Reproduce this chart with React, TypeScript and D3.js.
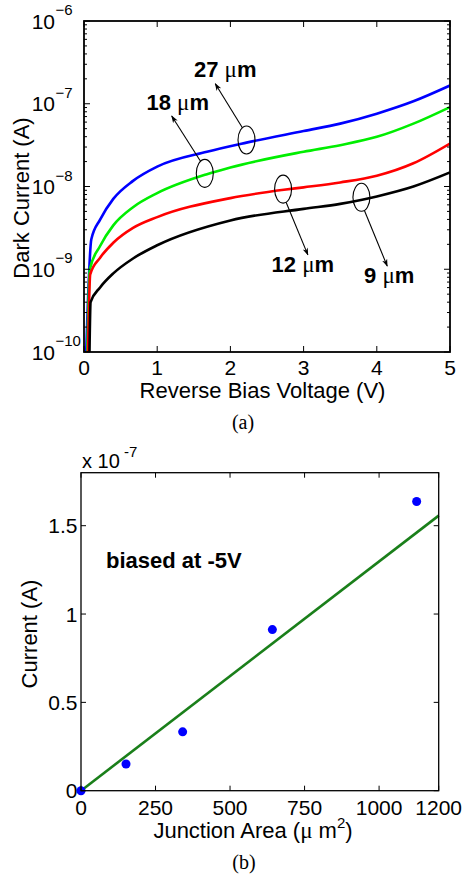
import React from 'react';
import * as d3 from 'd3';

// (a) dark current vs reverse bias, one series per pixel size
const sizeLabels = ['27', '18', '12', '9'];
const sizeColors = ['#0000ff', '#00ee00', '#ff0000', '#000000'];
const blueV = [0.03, 0.1, 0.22, 0.4, 0.67, 1, 1.68, 2.22, 3, 3.5, 4, 4.5, 5];
const blueI = [1e-10, 2.3e-9, 3.98e-9, 7.08e-9, 1.17e-8, 1.74e-8, 2.63e-8, 3.39e-8, 4.68e-8, 5.75e-8, 7.59e-8, 1.07e-7, 1.66e-7];
const greenV = [0.045, 0.08, 0.22, 0.4, 0.67, 1, 1.68, 2, 3, 3.5, 4, 4.5, 5];
const greenI = [1e-10, 1e-9, 1.91e-9, 3.39e-9, 5.62e-9, 8.32e-9, 1.41e-8, 1.7e-8, 2.63e-8, 3.16e-8, 3.98e-8, 5.75e-8, 9.12e-8];
const redV = [0.055, 0.085, 0.22, 0.4, 0.67, 1, 2, 2.73, 3, 3.5, 4, 4.5, 5];
const redI = [1e-10, 8.7e-10, 1.38e-9, 2.09e-9, 3.16e-9, 4.27e-9, 7.24e-9, 9.12e-9, 9.77e-9, 1.12e-8, 1.35e-8, 1.91e-8, 3.31e-8];
const blackV = [0.075, 0.09, 0.22, 0.4, 0.67, 1, 2, 3, 3.5, 3.8, 4, 4.5, 5];
const blackI = [1e-10, 4e-10, 6.03e-10, 8.91e-10, 1.35e-9, 1.95e-9, 3.89e-9, 5.37e-9, 6.17e-9, 6.92e-9, 7.59e-9, 1e-8, 1.48e-8];
const voltTicks = [0, 1, 2, 3, 4, 5];
const decadeExps = [-10, -9, -8, -7, -6];

// ellipse marker (V, I) and where the label sits (V, I)
const markV = [2.22, 1.65, 2.72, 3.79];
const markI = [3.65e-8, 1.44e-8, 9.3e-9, 7.4e-9];
const labelV = [1.93, 1.28, 2.99, 4.17];
const labelI = [2.12e-7, 8.4e-8, 9.3e-10, 6.8e-10];

// (b) current at -5V vs junction area
const areas = [0, 151, 341, 642, 1126];
const currents = [0, 0.151e-7, 0.333e-7, 0.912e-7, 1.637e-7];
const fitArea = [0, 1200];
const fitCurrent = [0, 1.557e-7];
const areaTicks = [0, 250, 500, 750, 1000, 1200];
const currentTicks = [0, 0.5e-7, 1e-7, 1.5e-7];

const sans = '"Liberation Sans", Arial, Helvetica, sans-serif';
const serif = '"Liberation Serif", "Times New Roman", serif';

const TopChart = () => {
  const x = d3.scaleLinear().domain([0, 5]).range([84, 450]);
  const y = d3.scaleLog().domain([1e-10, 1e-6]).range([352, 21]);
  const series = [
    { v: blueV, i: blueI },
    { v: greenV, i: greenI },
    { v: redV, i: redI },
    { v: blackV, i: blackI },
  ];
  const line = d3.line<[number, number]>()
    .x(d => x(d[0]))
    .y(d => y(d[1]))
    .curve(d3.curveMonotoneX);
  const minors: number[] = [];
  decadeExps.slice(0, -1).forEach(e => {
    for (let k = 2; k <= 9; k++) minors.push(k * Math.pow(10, e));
  });
  const [x0, x1] = x.range();
  const [y0, y1] = y.range();
  // arrow tip offsets from each label anchor
  const tipDx = [-10, -6, 5, -2];
  const tipDy = [7, 6, -17, -17];

  return (
    <g>
      <defs>
        <clipPath id="clipA">
          <rect x={x0} y={y1} width={x1 - x0} height={y0 - y1} />
        </clipPath>
        <marker id="arr" viewBox="0 0 10 10" refX="9" refY="5" markerWidth="7" markerHeight="7" orient="auto">
          <path d="M0,1.5 L10,5 L0,8.5 L3,5 Z" fill="#000" />
        </marker>
      </defs>
      <g clipPath="url(#clipA)">
        {series.map((s, k) => (
          <path key={k}
            d={line(s.v.map((v, j) => [v, s.i[j]] as [number, number])) || ''}
            fill="none" stroke={sizeColors[k]} strokeWidth={2.6} />
        ))}
      </g>
      {minors.map((m, k) => (
        <g key={k}>
          <line x1={x0} x2={x0 + 3} y1={y(m)} y2={y(m)} stroke="#000" />
          <line x1={x1} x2={x1 - 3} y1={y(m)} y2={y(m)} stroke="#000" />
        </g>
      ))}
      {decadeExps.map(e => (
        <g key={e}>
          <line x1={x0} x2={x0 + 6} y1={y(Math.pow(10, e))} y2={y(Math.pow(10, e))} stroke="#000" />
          <line x1={x1} x2={x1 - 6} y1={y(Math.pow(10, e))} y2={y(Math.pow(10, e))} stroke="#000" />
          <text x={55} y={y(Math.pow(10, e)) + 7.5} textAnchor="end" fontFamily={sans} fontSize={21}>10</text>
          <text x={55.5} y={y(Math.pow(10, e)) - 6} fontFamily={sans} fontSize={15}>{'\u2212' + Math.abs(e)}</text>
        </g>
      ))}
      {voltTicks.map(t => (
        <g key={t}>
          <line x1={x(t)} x2={x(t)} y1={y0} y2={y0 - 6} stroke="#000" />
          <line x1={x(t)} x2={x(t)} y1={y1} y2={y1 + 6} stroke="#000" />
          <text x={x(t)} y={375} textAnchor="middle" fontFamily={sans} fontSize={21}>{t}</text>
        </g>
      ))}
      <rect x={x0} y={y1} width={x1 - x0} height={y0 - y1} fill="none" stroke="#000" strokeWidth={1.8} />
      {markV.map((mv, k) => {
        const cx = x(mv);
        const cy = y(markI[k]);
        const lx = x(labelV[k]);
        const ly = y(labelI[k]);
        const ex = lx + tipDx[k];
        const ey = ly + tipDy[k];
        const ang = Math.atan2(ey - cy, ex - cx);
        const sx = cx + 8.5 * Math.cos(ang);
        const sy = cy + 14 * Math.sin(ang);
        return (
          <g key={k}>
            <ellipse cx={cx} cy={cy} rx={8.5} ry={14} fill="none" stroke="#000" strokeWidth={1.1} />
            <line x1={sx} y1={sy} x2={ex} y2={ey} stroke="#000" strokeWidth={1.1} markerEnd="url(#arr)" />
            <text x={lx} y={ly} textAnchor="middle" fontFamily={sans} fontSize={22} fontWeight="bold">
              {sizeLabels[k] + ' '}
              <tspan fontFamily={serif} fontWeight="normal" fontSize={23}>μ</tspan>
              <tspan>m</tspan>
            </text>
          </g>
        );
      })}
      <text x={262.5} y={398} textAnchor="middle" fontFamily={sans} fontSize={22}>Reverse Bias Voltage (V)</text>
      <text transform="translate(29,198) rotate(-90)" textAnchor="middle" fontFamily={sans} fontSize={22}>Dark Current (A)</text>
      <text x={243} y={429} textAnchor="middle" fontFamily={serif} fontSize={20}>(a)</text>
    </g>
  );
};

const BottomChart = () => {
  const x = d3.scaleLinear().domain([0, 1200]).range([81, 438.7]);
  const y = d3.scaleLinear().domain([0, 1.8e-7]).range([790.7, 472.7]);
  const [x0, x1] = x.range();
  const [y0, y1] = y.range();
  const fit = d3.line<number>().x(d => x(d)).y((_, j) => y(fitCurrent[j]));
  return (
    <g>
      <path d={fit(fitArea) || ''} stroke="#1a7f1a" strokeWidth={2.6} fill="none" />
      {areas.map((a, k) => (
        <circle key={k} cx={x(a)} cy={y(currents[k])} r={4.5} fill="#0000ff" />
      ))}
      {areaTicks.map(t => (
        <g key={t}>
          <line x1={x(t)} x2={x(t)} y1={y0} y2={y0 - 5} stroke="#000" />
          <line x1={x(t)} x2={x(t)} y1={y1} y2={y1 + 5} stroke="#000" />
          <text x={x(t)} y={815} textAnchor="middle" fontFamily={sans} fontSize={21}>{t}</text>
        </g>
      ))}
      {currentTicks.map(t => (
        <g key={t}>
          <line x1={x0} x2={x0 + 5} y1={y(t)} y2={y(t)} stroke="#000" />
          <line x1={x1} x2={x1 - 5} y1={y(t)} y2={y(t)} stroke="#000" />
          <text x={77.5} y={y(t) + 7.5} textAnchor="end" fontFamily={sans} fontSize={21}>{d3.format('~g')(t / 1e-7)}</text>
        </g>
      ))}
      <rect x={x0} y={y1} width={x1 - x0} height={y0 - y1} fill="none" stroke="#000" strokeWidth={1.3} />
      <text x={82} y={468} fontFamily={sans} fontSize={20}>x 10</text>
      <text x={124} y={457} fontFamily={sans} fontSize={15}>-7</text>
      <text x={106} y={568} fontFamily={sans} fontSize={22} fontWeight="bold">biased at -5V</text>
      <text x={253} y={838} textAnchor="middle" fontFamily={sans} fontSize={22}>
        Junction Area (<tspan fontFamily={serif} fontSize={23}>μ</tspan>
        {' m'}
        <tspan fontSize={15} dy={-10}>2</tspan>
        <tspan dy={10}>)</tspan>
      </text>
      <text transform="translate(37,634) rotate(-90)" textAnchor="middle" fontFamily={sans} fontSize={22}>Current (A)</text>
      <text x={244} y={869} textAnchor="middle" fontFamily={serif} fontSize={20}>(b)</text>
    </g>
  );
};

export default function App() {
  return (
    <svg width={465} height={877} style={{ position: 'absolute', left: 0, top: 0, background: '#fff' }}>
      <rect width={465} height={877} fill="#fff" />
      <TopChart />
      <BottomChart />
    </svg>
  );
}
